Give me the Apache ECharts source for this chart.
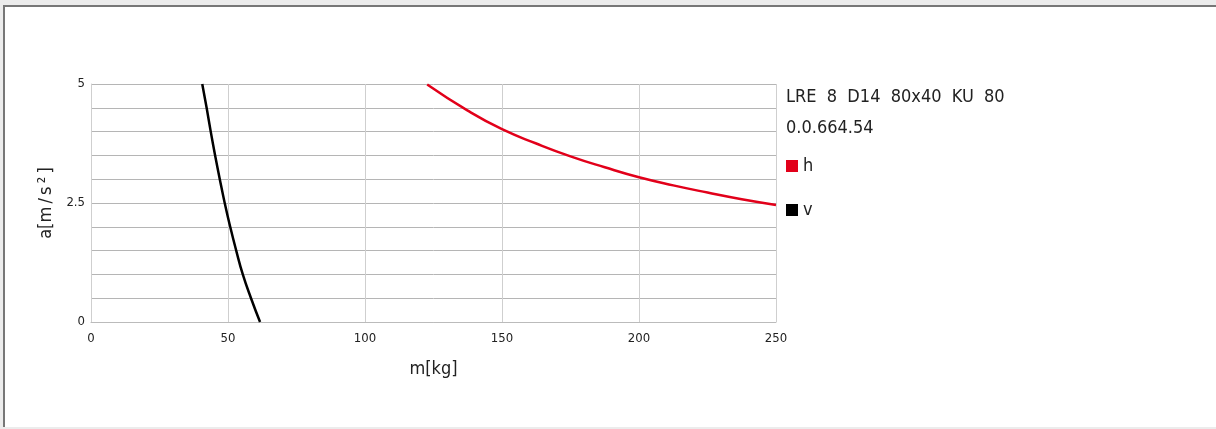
<!DOCTYPE html>
<html>
<head>
<meta charset="utf-8">
<script src="https://cdn.jsdelivr.net/npm/echarts@6/dist/echarts.min.js"></script>
<style>
  html, body { margin: 0; padding: 0; background: #ececec; }
  #frame {
    position: absolute; left: 3px; top: 5px; width: 1230px; height: 420px;
    background: #fff; border-top: 2px solid #777; border-left: 2px solid #777;
  }
  #chart { position: absolute; left: -5px; top: -7px; width: 1216px; height: 429px; }
</style>
</head>
<body>
<div id="frame"><div id="chart"></div></div>
<script>
// m[kg] / a[m/s²] pairs
const hSeries = [[122.7, 4.99], [137.5, 4.44], [150, 4.05], [162.5, 3.75], [175, 3.48], [187.5, 3.25], [200, 3.04], [212.5, 2.87], [225, 2.72], [237.5, 2.58], [250, 2.46]];
const vSeries = [[40.6, 5.0], [42.2, 4.5], [43.7, 4.0], [45.3, 3.5], [47.0, 3.0], [48.8, 2.5], [50.8, 2.0], [53.0, 1.5], [55.4, 1.0], [58.4, 0.5], [61.7, 0]];
const yTickLabels = [0, 2.5, 5];
const titleLines = ["LRE  8  D14  80x40  KU  80", "0.0.664.54"];

const font = "'DejaVu Sans Condensed', 'Liberation Sans Narrow', sans-serif";
const chart = echarts.init(document.getElementById("chart"));
chart.setOption({
  animation: false,
  textStyle: { fontFamily: font },
  grid: { left: 91, right: 440, top: 84, bottom: 107 },
  color: ["#e2001a", "#000000"],
  legend: {
    left: 781, top: 152, orient: "vertical",
    itemWidth: 12, itemHeight: 12, itemGap: 26, icon: "rect",
    textStyle: { fontSize: 18, color: "#222", fontFamily: font },
    data: ["h", "v"],
  },
  graphic: [
    { type: "text", left: 786, top: 88, style: { text: titleLines[0], fontSize: 18, fill: "#222", fontFamily: font } },
    { type: "text", left: 786, top: 119, style: { text: titleLines[1], fontSize: 18, fill: "#222", fontFamily: font } },
  ],
  xAxis: {
    type: "value", min: 0, max: 250, interval: 50,
    name: "m[kg]", nameLocation: "middle", nameGap: 38,
    nameTextStyle: { fontSize: 18, color: "#222" },
    axisLine: { show: true, lineStyle: { color: "#bbb" } },
    axisTick: { show: false },
    axisLabel: { color: "#222", fontSize: 13, margin: 10 },
    splitLine: { show: true, lineStyle: { color: "#cfcfcf" } },
  },
  yAxis: {
    type: "value", min: 0, max: 5, interval: 0.5,
    name: "a[m\u2009/\u2009s\u2009²\u2009]", nameLocation: "middle", nameGap: 32,
    nameTextStyle: { fontSize: 18, color: "#222" },
    axisLine: { show: true, lineStyle: { color: "#cfcfcf" } },
    axisTick: { show: false },
    axisLabel: {
      color: "#222", fontSize: 13, margin: 6,
      formatter: v => (yTickLabels.indexOf(v) >= 0 ? String(v) : ""),
    },
    splitLine: { show: true, lineStyle: { color: "#b5b5b5" } },
  },
  series: [
    { name: "h", type: "line", smooth: true, showSymbol: false, lineStyle: { width: 2.5, color: "#e2001a" }, data: hSeries },
    { name: "v", type: "line", smooth: true, showSymbol: false, lineStyle: { width: 2.5, color: "#000" }, data: vSeries },
  ],
});
</script>
</body>
</html>
